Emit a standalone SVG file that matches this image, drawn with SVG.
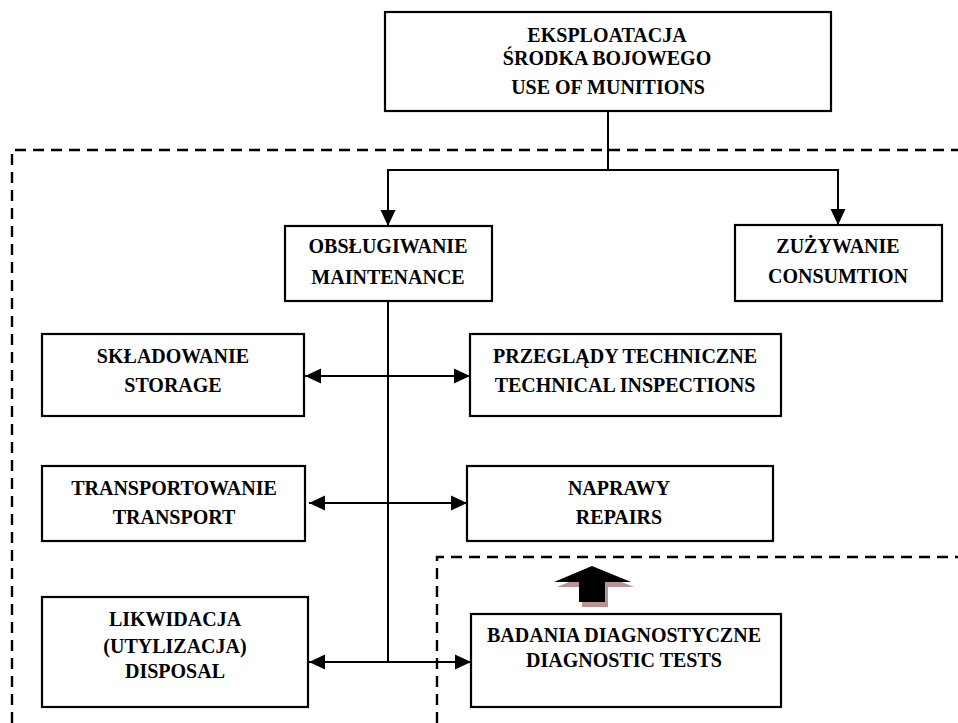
<svg xmlns="http://www.w3.org/2000/svg" width="958" height="723" viewBox="0 0 958 723">
  <style>
    .box { fill: #ffffff; stroke: #000000; stroke-width: 2.2; }
    .lbl { font-family: "Liberation Serif", "Times New Roman", serif; font-weight: bold; font-size: 20px; fill: #000000; text-anchor: middle; }
    .conn { fill: none; stroke: #000000; stroke-width: 2; }
    .dash { fill: none; stroke: #000000; stroke-width: 2.4; stroke-dasharray: 11 7; }
  </style>
  <defs>
    <marker id="ah" markerUnits="userSpaceOnUse" markerWidth="16" markerHeight="16" viewBox="0 0 16 16" refX="16" refY="8" orient="auto-start-reverse">
      <path d="M0,0.5 L16,8 L0,15.5 Z" fill="#000000"/>
    </marker>
  </defs>
  <rect width="958" height="723" fill="#ffffff"/>

  <g id="boundaries">
    <path class="dash" d="M12,723 V150 H958"/>
    <path class="dash" d="M437,723 V557 H958"/>
  </g>

  <g id="connectors">
    <path class="conn" d="M608,111 V170 H388 V226" marker-end="url(#ah)"/>
    <path class="conn" d="M608,170 H838 V225" marker-end="url(#ah)"/>
    <path class="conn" d="M388,301 V662"/>
    <path class="conn" d="M305,376 H470" marker-start="url(#ah)" marker-end="url(#ah)"/>
    <path class="conn" d="M309,503 H467" marker-start="url(#ah)" marker-end="url(#ah)"/>
    <path class="conn" d="M309,662 H471" marker-start="url(#ah)" marker-end="url(#ah)"/>
    <g id="block-arrow">
      <polygon points="595,571 634,587 608,587 608,607 582,607 582,587 557,587" fill="#b89494"/>
      <polygon points="592,566 631,582 605,582 605,602 579,602 579,582 554,582" fill="#000000"/>
    </g>
  </g>

  <g id="node-use">
    <rect class="box" x="385" y="12" width="446" height="99"/>
    <text class="lbl" x="607" y="42">EKSPLOATACJA</text>
    <text class="lbl" x="607" y="65">ŚRODKA BOJOWEGO</text>
    <text class="lbl" x="608" y="94">USE OF MUNITIONS</text>
  </g>

  <g id="node-maintenance">
    <rect class="box" x="285" y="226" width="207" height="75"/>
    <text class="lbl" x="388" y="253">OBSŁUGIWANIE</text>
    <text class="lbl" x="388" y="284">MAINTENANCE</text>
  </g>

  <g id="node-consumption">
    <rect class="box" x="735" y="225" width="207" height="76"/>
    <text class="lbl" x="838" y="253">ZUŻYWANIE</text>
    <text class="lbl" x="838" y="283">CONSUMTION</text>
  </g>

  <g id="node-storage">
    <rect class="box" x="42" y="334" width="262" height="82"/>
    <text class="lbl" x="173" y="363">SKŁADOWANIE</text>
    <text class="lbl" x="173" y="392">STORAGE</text>
  </g>

  <g id="node-inspections">
    <rect class="box" x="470" y="334" width="311" height="82"/>
    <text class="lbl" x="625" y="363">PRZEGLĄDY TECHNICZNE</text>
    <text class="lbl" x="625" y="392">TECHNICAL INSPECTIONS</text>
  </g>

  <g id="node-transport">
    <rect class="box" x="42" y="466" width="263" height="75"/>
    <text class="lbl" x="174" y="495">TRANSPORTOWANIE</text>
    <text class="lbl" x="174" y="524">TRANSPORT</text>
  </g>

  <g id="node-repairs">
    <rect class="box" x="467" y="466" width="306" height="75"/>
    <text class="lbl" x="619" y="495">NAPRAWY</text>
    <text class="lbl" x="619" y="524">REPAIRS</text>
  </g>

  <g id="node-disposal">
    <rect class="box" x="42" y="597" width="266" height="110"/>
    <text class="lbl" x="175" y="626">LIKWIDACJA</text>
    <text class="lbl" x="175" y="653">(UTYLIZACJA)</text>
    <text class="lbl" x="175" y="678">DISPOSAL</text>
  </g>

  <g id="node-diagnostics">
    <rect class="box" x="471" y="614" width="310" height="93"/>
    <text class="lbl" x="624" y="642">BADANIA DIAGNOSTYCZNE</text>
    <text class="lbl" x="624" y="667">DIAGNOSTIC TESTS</text>
  </g>
</svg>
